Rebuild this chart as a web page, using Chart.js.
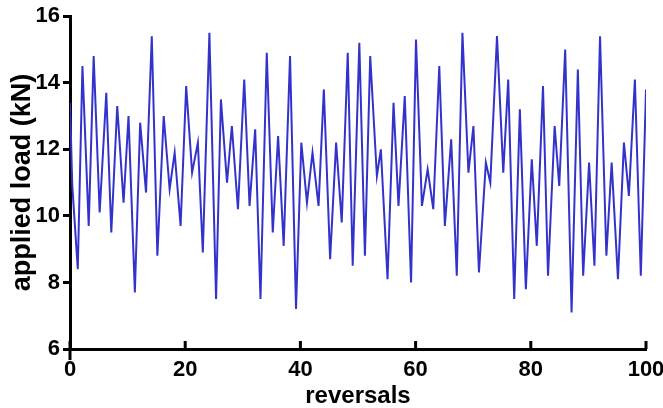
<!DOCTYPE html>
<html>
<head>
<meta charset="utf-8">
<script src="https://cdn.jsdelivr.net/npm/chart.js@4.4.1/dist/chart.umd.min.js"></script>
<style>
  body { margin: 0; background: #fff; }
  #wrap { width: 663px; height: 408px; }
</style>
</head>
<body>
<div id="wrap"><canvas id="loadChart" width="663" height="408"></canvas></div>
<script>
// peaks and troughs
var reversals = [0, 0.4, 1.35, 2.16, 3.25, 4.11, 5.15, 6.3, 7.17, 8.2, 9.3, 10.16, 11.26, 12.18, 13.2, 14.2,
  15.17, 16.27, 17.3, 18.17, 19.2, 20.17, 21.2, 22.2, 23.06, 24.2, 25.36, 26.2, 27.26, 28.1, 29.16,
  30.25, 31.17, 32.15, 33.07, 34.16, 35.2, 36.13, 37.1, 38.2, 39.24, 40.16, 41.14, 42.1, 43.15, 44.07,
  45.16, 46.2, 47.18, 48.22, 49.08, 50.23, 51.2, 52.12, 53.28, 53.97, 55.13, 56.17, 57.03, 58.12, 59.21,
  60.07, 61.1, 62.09, 63.07, 64.11, 65.08, 66.18, 67.15, 68.13, 69.17, 70.04, 71.0, 72.2, 72.97, 74.13,
  75.22, 76.08, 77.12, 78.1, 79.14, 80.17, 81.04, 82.12, 82.99, 84.14, 84.94, 85.97, 87.08, 88.17, 89.09,
  90.12, 91.05, 92.02, 93.12, 94.04, 95.13, 96.17, 97.03, 98.07, 99.1, 100];
var load = [13.4, 10.9, 8.4, 14.5, 9.7, 14.8, 10.1, 13.7, 9.5, 13.3, 10.4, 13.0, 7.7, 12.8, 10.7, 15.4,
  8.8, 13.0, 10.8, 11.9, 9.7, 13.9, 11.3, 12.2, 8.9, 15.5, 7.5, 13.5, 11.0, 12.7, 10.2,
  14.1, 10.3, 12.6, 7.5, 14.9, 9.5, 12.4, 9.1, 14.8, 7.2, 12.2, 10.4, 11.9, 10.3, 13.8,
  8.7, 12.2, 9.8, 14.9, 8.5, 15.2, 8.8, 14.8, 11.2, 12.0, 8.1, 13.4, 10.3, 13.6, 8.0,
  15.3, 10.3, 11.4, 10.2, 14.5, 9.7, 12.3, 8.2, 15.5, 11.3, 12.7, 8.3, 11.6, 11.0, 15.4,
  11.3, 14.1, 7.5, 13.2, 7.8, 11.7, 9.1, 13.9, 8.2, 12.7, 10.9, 15.0, 7.1, 14.4, 8.2,
  11.6, 8.5, 15.4, 8.8, 11.6, 8.1, 12.2, 10.6, 14.1, 8.2, 13.8];
var xTicks = [0, 20, 40, 60, 80, 100];

var points = [];
for (var i = 0; i < reversals.length; i++) {
  points.push({x: reversals[i], y: load[i]});
}

var fontFam = "'Liberation Sans Narrow', 'Liberation Sans', Arial, sans-serif";

// x ticks in this chart point up into the plot
var innerTicks = {
  id: 'innerTicks',
  afterDraw: function(chart) {
    var ctx = chart.ctx;
    var xs = chart.scales.x;
    var y0 = chart.chartArea.bottom;
    ctx.save();
    ctx.strokeStyle = '#000';
    ctx.lineWidth = 3;
    xTicks.forEach(function(v) {
      var px = xs.getPixelForValue(v);
      ctx.beginPath();
      ctx.moveTo(px, y0);
      ctx.lineTo(px, y0 - 8);
      ctx.stroke();
    });
    var p0 = xs.getPixelForValue(0);
    ctx.beginPath();
    ctx.moveTo(p0, y0);
    ctx.lineTo(p0, y0 + 11);
    ctx.stroke();
    ctx.restore();
  }
};

var chart = new Chart(document.getElementById('loadChart').getContext('2d'), {
  type: 'line',
  data: {
    datasets: [{
      data: points,
      borderColor: '#3333cc',
      borderWidth: 2,
      pointRadius: 0,
      tension: 0
    }]
  },
  options: {
    responsive: false,
    animation: false,
    layout: { padding: { top: 14, right: 17, left: 0, bottom: 0 } },
    plugins: { legend: { display: false }, tooltip: { enabled: false } },
    scales: {
      x: {
        type: 'linear',
        min: 0,
        max: 100,
        afterFit: function(s) { s.height = 59; s.paddingLeft = 0; s.paddingRight = 0; },
        ticks: { stepSize: 20, color: '#000', padding: 8, maxRotation: 0,
          font: { family: fontFam, size: 22, weight: 'bold' } },
        grid: { drawOnChartArea: false, drawTicks: false },
        border: { color: '#000', width: 3 },
        title: { display: true, text: 'reversals', color: '#000', padding: 0,
          font: { family: fontFam, size: 24, weight: 'bold', lineHeight: 1 } }
      },
      y: {
        min: 6,
        max: 16,
        afterFit: function(s) { s.width = 70; },
        ticks: { stepSize: 2, color: '#000', padding: 3,
          font: { family: fontFam, size: 22, weight: 'bold' } },
        grid: { drawOnChartArea: false, tickLength: 7, tickWidth: 3, color: '#000' },
        border: { color: '#000', width: 3 },
        title: { display: true, text: 'applied load (kN)', color: '#000', padding: 6,
          font: { family: fontFam, size: 27, weight: 'bold', lineHeight: 1.2 } }
      }
    }
  },
  plugins: [innerTicks]
});
</script>
</body>
</html>
